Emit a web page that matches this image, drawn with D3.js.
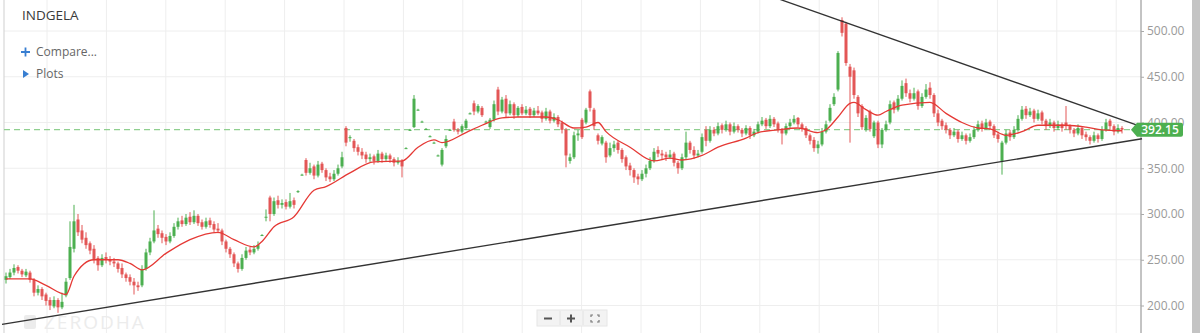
<!DOCTYPE html>
<html><head><meta charset="utf-8">
<script src="https://cdn.jsdelivr.net/npm/d3@7"></script>
<style>body{margin:0;background:#fff;overflow:hidden} svg{display:block;font-family:"Open Sans",sans-serif}</style>
</head><body><svg id="c" width="1200" height="333"></svg>
<script>
const symbol = "INDGELA";
const opens = [228,231,236,242,238,233,236,228,214,218,212,206,199,206,198,211,230,262,294,282,
274,268,262,252,244,253,250,248,246,241,234,231,226,222,222,240,258,270,284,279,
275,270,276,286,293,289,297,291,298,291,286,293,289,284,282,270,262,256,246,240,
252,261,258,262,277,297,318,300,315,310,313,308,315,324,343,359,345,352,342,355,
348,341,338,344,352,394,384,380,373,368,365,360,363,358,366,360,364,360,356,358,
372,392,395,414,401,393,385,378,364,354,374,392,401,392,390,394,410,421,412,416,
401,395,403,436,412,426,410,420,408,417,410,415,408,413,411,404,412,402,406,400,
392,358,362,386,403,400,434,414,386,377,378,364,372,378,370,362,353,348,341,338,
344,350,358,370,366,365,362,366,356,350,362,378,370,364,368,392,380,392,388,397,
392,398,390,396,392,388,394,386,390,398,403,396,404,399,392,388,396,400,405,398,
394,386,381,372,376,390,402,420,436,512,508,461,457,428,418,392,412,385,400,376,
392,400,422,414,426,443,432,426,434,418,428,438,430,410,402,397,392,386,390,382,
386,380,384,392,399,394,401,396,387,358,378,389,384,392,404,415,408,413,404,411,
402,396,400,394,398,400,396,392,388,394,387,384,380,386,382,392,402,396,390,394];
const highs = [236,240,245,244,240,240,238,230,222,220,214,209,210,208,214,230,292,310,300,288,
280,270,266,254,256,258,254,252,248,246,236,234,230,226,244,262,274,304,288,282,
278,280,290,296,298,300,302,304,300,294,296,296,292,290,284,272,264,258,248,256,
264,264,266,270,278,305,320,318,320,316,316,323,318,326,344,361,356,354,358,357,
350,345,348,354,368,396,386,382,376,372,368,366,365,370,368,367,366,362,362,360,
373,393,430,415,402,394,386,379,365,372,386,393,404,394,398,404,411,424,420,418,
402,405,424,439,428,430,424,422,418,420,418,417,416,418,413,416,414,410,408,402,
394,366,390,392,405,416,436,416,388,386,380,378,380,380,372,364,356,350,344,348,
354,362,372,374,370,368,370,368,358,366,390,380,374,370,388,396,396,395,400,399,
402,400,400,398,394,397,396,393,401,406,405,408,406,401,394,399,404,408,406,400,
396,388,384,380,394,402,420,432,478,515,510,464,460,430,420,408,414,402,402,394,
402,424,424,430,446,448,436,438,436,432,442,444,432,414,404,400,394,394,392,390,
388,388,396,402,402,404,403,398,390,380,392,392,396,408,418,418,416,415,414,413,
404,404,402,402,400,418,398,394,398,396,390,386,390,388,396,404,404,398,398,396];
const lows = [224,229,233,235,231,231,225,210,211,206,200,195,197,192,196,209,228,258,276,268,
262,256,246,238,242,246,244,242,236,230,226,222,212,216,220,238,255,268,274,268,
266,268,274,283,286,287,288,289,287,283,284,285,280,279,266,258,252,242,236,238,
250,255,256,260,276,292,292,298,306,306,305,306,306,323,342,342,343,338,340,345,
336,335,336,342,350,374,379,368,364,360,356,357,354,356,356,358,356,352,354,340,
371,391,394,413,400,392,384,377,363,352,372,391,390,387,388,392,409,408,410,406,
400,393,401,408,410,406,408,404,406,408,408,405,406,408,400,402,399,400,395,388,
351,355,360,380,382,398,412,392,376,375,356,362,368,366,356,348,342,334,332,336,
340,348,356,362,360,358,360,352,344,348,360,366,360,362,366,374,378,385,386,388,
390,386,388,389,384,386,382,384,388,396,393,394,395,389,376,386,394,398,395,390,
383,376,368,366,374,388,400,418,434,494,462,378,426,406,392,390,390,383,372,372,
390,398,410,412,424,428,422,424,414,416,426,426,406,396,392,388,382,384,378,380,
376,378,382,390,390,392,392,383,378,343,376,380,382,390,402,404,406,400,402,398,
392,394,390,392,390,392,388,384,386,382,380,376,378,378,380,390,392,386,388,388];
const closes = [232,236,241,238,234,237,228,214,218,210,205,200,206,198,204,226,264,292,280,272,
266,260,250,244,252,250,248,246,240,234,230,226,222,220,240,258,270,282,278,274,
270,276,286,292,289,296,291,298,290,286,292,288,283,282,270,262,256,246,240,252,
260,258,262,266,277,297,300,314,310,312,308,314,310,325,343,345,350,342,354,348,
340,338,344,350,362,378,384,372,368,364,360,362,358,366,360,364,360,356,358,352,
372,392,426,414,401,393,385,378,364,370,382,392,392,390,396,402,410,412,418,408,
401,403,420,412,425,410,420,408,416,410,414,408,413,410,404,412,402,406,398,392,
364,362,386,388,384,414,416,396,380,384,362,372,376,370,360,352,348,340,338,344,
350,358,368,366,364,362,365,356,350,362,378,370,364,366,384,380,392,388,396,392,
398,390,396,392,388,394,386,390,398,402,396,404,398,392,388,396,400,404,398,394,
386,380,372,376,390,398,416,428,476,498,465,450,430,410,395,405,393,400,376,392,
398,420,414,426,440,432,426,432,418,428,436,430,410,400,396,392,386,390,382,386,
380,384,392,398,394,400,396,386,382,378,388,384,392,404,414,408,412,404,410,402,
396,400,394,398,394,396,392,388,394,386,384,380,386,382,392,400,396,390,394,392.15];
// moving average line (candle index, value)
const maIndex = [0,6,10,15,17,22,28,31,34,40,46,53,57,62,64,67,72,77,80,86,92,99,103,107,109,115,119,124,128,135,138,142,145,148,150,156,162,166,169,174,178,185,188,193,198,203,205,208,211,212,215,218,220,224,231,235,239,243,246,250,254,258,265,270,274,279];
const maValues = [229,229,222,212,232,250,250,246,239,257,272,280,272,264,270,286,297,326,330,345,357,358,373,381,378,389,397,405,406,406,403,394,395,400,390,373,358,361,359,364,373,383,389,392,394,389,392,406,421,422,414,408,412,419,422,410,400,394,393,386,390,397,397,395,392,391];
const yTicks = [200,250,300,350,400,450,500];
const lastPrice = 392.15;
const upperTrend = [[193.5,534.5],[284,395.2]];
const lowerTrend = [[-1,179.4],[284,382.3]];

const svg = d3.select("#c");
const N = closes.length;
const left = 4, right = 1141;
const x = d3.scaleLinear().domain([0, N-1]).range([6, 1122]);
const y = d3.scaleLinear().domain([200, 500]).range([305.5, 31]);

svg.append("rect").attr("x",1192).attr("y",0).attr("width",8).attr("height",333).attr("fill","#c4c4c4");

// grid
const vg = svg.append("g");
d3.range(0, 19).forEach(k => {
  const gx = 47 + 59.4*k;
  if (gx < right) vg.append("line").attr("x1",gx).attr("x2",gx).attr("y1",0).attr("y2",333).attr("stroke","#eeeeee");
});
yTicks.forEach(t => {
  vg.append("line").attr("x1",left).attr("x2",right).attr("y1",y(t)).attr("y2",y(t)).attr("stroke","#eeeeee");
});
svg.append("line").attr("x1",left).attr("x2",left).attr("y1",0).attr("y2",333).attr("stroke","#cfcfcf");

// watermark
const wm = svg.append("g").attr("fill","#ececec");
wm.append("rect").attr("x",24).attr("y",315).attr("width",12).attr("height",14).attr("rx",2);
wm.append("text").attr("x",44).attr("y",329).attr("font-size",19).attr("letter-spacing",2).attr("font-family","Open Sans").text("ZERODHA");

// axis
const axis = d3.axisRight(y).tickValues(yTicks).tickFormat(d3.format(".2f")).tickSize(3).tickPadding(3);
const ag = svg.append("g").attr("transform",`translate(${right},0)`).call(axis);
ag.select(".domain").attr("stroke","#888").attr("d","M0,0V333");
ag.selectAll(".tick line").attr("stroke","#aaa");
ag.selectAll(".tick text").attr("fill","#9a9a9a").attr("font-size",12).attr("font-family","Open Sans");

svg.append("clipPath").attr("id","clip").append("rect").attr("x",left).attr("y",0).attr("width",right-left).attr("height",333);
const plot = svg.append("g").attr("clip-path","url(#clip)");

// last price dashed line
plot.append("line").attr("x1",left).attr("x2",1133).attr("y1",y(lastPrice)).attr("y2",y(lastPrice))
  .attr("stroke","#8fcf8f").attr("stroke-width",1.2).attr("stroke-dasharray","6,4");

// candles
const up = "#4caf50", down = "#e35656";
const cw = 3;
const cg = plot.append("g");
for (let i = 0; i < N; i++) {
  const col = closes[i] >= opens[i] ? up : down;
  const cx = x(i);
  cg.append("line").attr("x1",cx).attr("x2",cx).attr("y1",y(highs[i])).attr("y2",y(lows[i])).attr("stroke",col).attr("stroke-width",1);
  const yt = y(Math.max(opens[i],closes[i])), yb = y(Math.min(opens[i],closes[i]));
  cg.append("rect").attr("x",cx-cw/2).attr("y",yt).attr("width",cw).attr("height",Math.max(1,yb-yt)).attr("fill",col);
}

// MA
const ma = maIndex.map((d,i)=>[d, maValues[i]]);
plot.append("path").datum(ma).attr("fill","none").attr("stroke","#e53935").attr("stroke-width",1.3)
  .attr("d", d3.line().x(d=>x(d[0])).y(d=>y(d[1])).curve(d3.curveMonotoneX));

// trend lines
[upperTrend, lowerTrend].forEach(t => {
  svg.append("line").attr("x1",x(t[0][0])).attr("y1",y(t[0][1])).attr("x2",x(t[1][0])).attr("y2",y(t[1][1]))
    .attr("stroke","#333").attr("stroke-width",1.4);
});

// price label
const ly = y(lastPrice);
svg.append("path").attr("d",`M1131,${ly} L1137,${ly-7} H1181 Q1183,${ly-7} 1183,${ly-5} V${ly+5} Q1183,${ly+7} 1181,${ly+7} H1137 Z`).attr("fill","#4caf50");
svg.append("text").attr("x",1160).attr("y",ly+4.5).attr("text-anchor","middle").attr("fill","#fff").attr("font-size",12).attr("font-weight",600).text(d3.format(".2f")(lastPrice));

// header texts
svg.append("text").attr("x",22).attr("y",20).attr("font-size",13.5).attr("fill","#3a3a3a").text(symbol);
svg.append("path").attr("d","M21,52H30M25.5,47.5V56.5").attr("stroke","#387ed1").attr("stroke-width",1.8);
svg.append("text").attr("x",36).attr("y",56).attr("font-size",12).attr("fill","#666").text("Compare...");
svg.append("path").attr("d","M23,70L29,74L23,78Z").attr("fill","#387ed1");
svg.append("text").attr("x",36).attr("y",78).attr("font-size",12).attr("fill","#666").text("Plots");

// zoom controls
const zc = svg.append("g");
zc.append("rect").attr("x",537).attr("y",310).attr("width",70).attr("height",16).attr("fill","#f3f3f3").attr("stroke","#e6e6e6");
zc.append("line").attr("x1",560).attr("x2",560).attr("y1",311).attr("y2",325).attr("stroke","#e2e2e2");
zc.append("line").attr("x1",583).attr("x2",583).attr("y1",311).attr("y2",325).attr("stroke","#e2e2e2");
zc.append("path").attr("d","M544,318.5H552").attr("stroke","#555").attr("stroke-width",2);
zc.append("path").attr("d","M567,318.5H575M571,314.5V322.5").attr("stroke","#555").attr("stroke-width",2);
zc.append("path").attr("d","M591,317V315H593M597,315H599V317M599,320V322H597M593,322H591V320").attr("stroke","#777").attr("fill","none").attr("stroke-width",1.2);
</script></body></html>
